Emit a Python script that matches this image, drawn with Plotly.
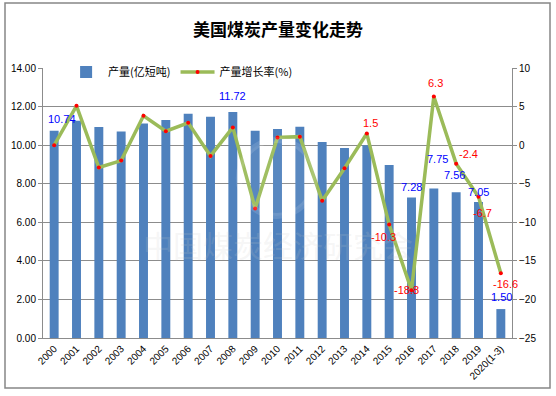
import plotly.graph_objects as go

years = ["2000", "2001", "2002", "2003", "2004", "2005", "2006", "2007", "2008", "2009",
         "2010", "2011", "2012", "2013", "2014", "2015", "2016", "2017", "2018", "2019", "2020(1-3)"]
production = [10.74, 11.27, 10.94, 10.71, 11.12, 11.31, 11.63, 11.47, 11.72, 10.75,
              10.84, 10.96, 10.16, 9.85, 10.00, 8.97, 7.28, 7.75, 7.56, 7.05, 1.50]
growth = [0.0, 5.1, -2.9, -2.0, 3.8, 1.8, 2.9, -1.4, 2.3, -8.2,
          1.0, 1.1, -7.2, -3.0, 1.5, -10.3, -18.8, 6.3, -2.4, -6.7, -16.6]

# which points carry labels and their offsets (px)
bar_label_idx = [0, 8, 16, 17, 18, 19, 20]
bar_label_off = [(8, 10), (0, 14), (0, 9), (4, 28), (-2, 15), (0, 8), (1, 10)]
line_label_idx = [14, 15, 16, 17, 18, 19, 20]
line_label_off = [(4, 11), (-6, -12), (-5, 0), (2, 14), (12, 10), (4, -16), (5, -11)]

BLUE = "#4F81BD"
GREEN = "#9BBB59"
GRID = "#8C8C8C"
FONT = "Liberation Sans, Arial, sans-serif"

fig = go.Figure()
fig.add_trace(go.Bar(x=years, y=production, name="产量(亿短吨)", marker_color=BLUE,
                     marker_line_width=0, yaxis="y"))
fig.add_trace(go.Scatter(x=years, y=growth, name="产量增长率(%)", mode="lines+markers",
                         line=dict(color=GREEN, width=3.5),
                         marker=dict(color="#FF0000", size=4, symbol="circle"),
                         yaxis="y2"))

ann = []
for i, (dx, dy) in zip(bar_label_idx, bar_label_off):
    ann.append(dict(x=i, y=production[i], xref="x", yref="y", text=f"{production[i]:.2f}",
                    showarrow=False, xshift=dx, yshift=dy + 2,
                    font=dict(color="#0000FF", size=11, family=FONT)))
for i, (dx, dy) in zip(line_label_idx, line_label_off):
    ann.append(dict(x=i, y=growth[i], xref="x", yref="y2", text=f"{growth[i]:.1f}",
                    showarrow=False, xshift=dx, yshift=dy,
                    font=dict(color="#FF0000", size=11, family=FONT)))
# watermark
ann.append(dict(x=0.5, y=0.26, xref="paper", yref="paper", text="中国煤炭经济研究会",
                showarrow=False, font=dict(size=30, color="rgba(200,200,200,0.18)",
                                           family="Noto Sans CJK SC")))

fig.update_layout(
    width=556, height=396,
    margin=dict(l=43, r=44, t=68, b=58),
    paper_bgcolor="white", plot_bgcolor="white",
    title=dict(text="<b>美国煤炭产量变化走势</b>", x=0.5, xanchor="center", y=0.925, yanchor="middle",
               font=dict(size=17, color="black", family="Noto Sans CJK SC")),
    bargap=0.6,
    showlegend=True,
    legend=dict(orientation="h", x=0.045, y=0.985, xanchor="left", yanchor="middle",
                bgcolor="rgba(0,0,0,0)", font=dict(size=11, family="Noto Sans CJK SC", color="black"),
                itemwidth=34, tracegroupgap=0),
    xaxis=dict(type="category", range=[-0.5, len(years) - 0.5], tickangle=-45,
               tickfont=dict(size=10, family=FONT, color="black"),
               showline=True, linecolor=GRID, linewidth=1, ticks="", showgrid=False),
    yaxis=dict(range=[0, 14], dtick=2, tickformat=".2f", showgrid=True, gridcolor=GRID, gridwidth=1,
               showline=True, linecolor=GRID, linewidth=1, ticks="outside", ticklen=4, tickcolor=GRID,
               tickfont=dict(size=10, family=FONT, color="black"), zeroline=False),
    yaxis2=dict(range=[-25, 10], dtick=5, overlaying="y", side="right", showgrid=False,
                showline=True, linecolor=GRID, linewidth=1, ticks="outside", ticklen=4, tickcolor=GRID,
                tickfont=dict(size=10, family=FONT, color="black"), zeroline=False),
    annotations=ann,
    shapes=[
        dict(type="circle", xref="paper", yref="paper", x0=0.4985 - 38 / 469, x1=0.4985 + 38 / 469,
             y0=(338 - 178) / 270 - 38 / 270, y1=(338 - 178) / 270 + 38 / 270,
             line=dict(color="rgba(255,255,255,0.12)", width=6), fillcolor="rgba(255,255,255,0.06)",
             layer="above"),
        dict(type="rect", xref="paper", yref="paper", x0=(5 - 43) / 469, x1=(550 - 43) / 469,
             y0=(338 - 388) / 270, y1=(338 - 3) / 270, line=dict(color="#868686", width=1.5),
             fillcolor="rgba(0,0,0,0)", layer="below"),
    ],
)

fig.write_html("out.html", config={"displayModeBar": False},
               post_script="document.body.style.margin='0px';document.body.style.overflow='hidden';")
